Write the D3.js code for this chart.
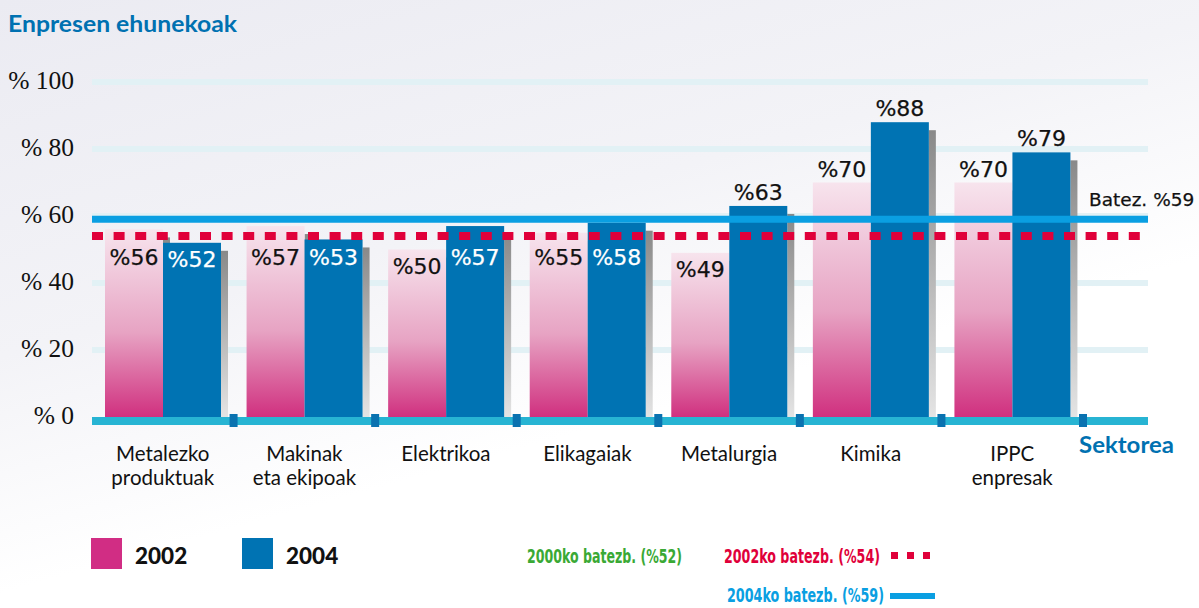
<!DOCTYPE html>
<html>
<head>
<meta charset="utf-8">
<script src="https://cdn.jsdelivr.net/npm/d3@7"></script>
<style>
  body { margin: 0; background: #fff; }
  svg { display: block; }
</style>
</head>
<body>
<svg id="chart" width="1199" height="608"></svg>
<script>
// data
var categories = ["Metalezko\nproduktuak", "Makinak\neta ekipoak", "Elektrikoa", "Elikagaiak", "Metalurgia", "Kimika", "IPPC\nenpresak"];
var years = ["2002", "2004"];
var values2002 = [56, 57, 50, 55, 49, 70, 70];
var values2004 = [52, 53, 57, 58, 63, 88, 79];
var yTicks = [0, 20, 40, 60, 80, 100];
var avg2000 = 52;
var avg2002 = 54;
var avg2004 = 59;

var svg = d3.select("#chart");
var defs = svg.append("defs");

// background wash
var bg = defs.append("linearGradient").attr("id", "bg")
    .attr("x1", 0).attr("y1", 0).attr("x2", 0.55).attr("y2", 1);
bg.append("stop").attr("offset", "0%").attr("stop-color", "#ebebf2");
bg.append("stop").attr("offset", "45%").attr("stop-color", "#f3f3f7");
bg.append("stop").attr("offset", "75%").attr("stop-color", "#ffffff");
svg.append("rect").attr("width", 1199).attr("height", 608).attr("fill", "url(#bg)");

var pink = defs.append("linearGradient").attr("id", "pink")
    .attr("x1", 0).attr("y1", 0).attr("x2", 0).attr("y2", 1);
pink.append("stop").attr("offset", "0%").attr("stop-color", "#f7e4ed");
pink.append("stop").attr("offset", "55%").attr("stop-color", "#e7a3c3");
pink.append("stop").attr("offset", "100%").attr("stop-color", "#d0307f");

var shade = defs.append("linearGradient").attr("id", "shade")
    .attr("x1", 0).attr("y1", 0).attr("x2", 0).attr("y2", 1);
shade.append("stop").attr("offset", "0%").attr("stop-color", "#898989");
shade.append("stop").attr("offset", "100%").attr("stop-color", "#e4e4e4");

var y = d3.scaleLinear().domain([0, 100]).range([417, 82]);
var x0 = d3.scaleBand().domain(categories).range([92, 1083]);
var x1 = d3.scaleBand().domain(years).range([13, 129]);

var colors = { "2002": "url(#pink)", "2004": "#0073b3" };
var labelColors = { "2002": "#111", "2004": "#fff" };

// gridlines
svg.append("g").selectAll("rect")
    .data(yTicks.filter(function(d) { return d > 0; }))
  .enter().append("rect")
    .attr("x", 92).attr("width", 1056)
    .attr("y", function(d) { return y(d) - 3; })
    .attr("height", 6)
    .attr("fill", "#e2f1f5");

// y labels
var yAxis = svg.append("g")
    .attr("transform", "translate(76,-2)")
    .call(d3.axisLeft(y).tickValues(yTicks).tickSize(0).tickPadding(2)
      .tickFormat(function(d) { return "% " + d; }));
yAxis.select(".domain").remove();
yAxis.selectAll("text")
    .attr("font-family", "'Liberation Serif', 'DejaVu Serif', serif")
    .attr("font-size", 25.5)
    .attr("fill", "#111");

var rows = categories.map(function(c, i) {
  return { cat: c, values: [
    { year: "2002", value: values2002[i] },
    { year: "2004", value: values2004[i] }
  ] };
});

var groups = svg.append("g").selectAll("g")
    .data(rows)
  .enter().append("g")
    .attr("transform", function(d) { return "translate(" + x0(d.cat) + ",0)"; });

// drop shadows
groups.selectAll(".shadow")
    .data(function(d) { return d.values; })
  .enter().append("rect")
    .attr("class", "shadow")
    .attr("x", function(d) { return x1(d.year) + x1.bandwidth(); })
    .attr("width", 7)
    .attr("y", function(d) { return y(d.value) + 8; })
    .attr("height", function(d) { return y(0) - y(d.value) - 8; })
    .attr("fill", "url(#shade)");

groups.selectAll(".bar")
    .data(function(d) { return d.values; })
  .enter().append("rect")
    .attr("class", "bar")
    .attr("x", function(d) { return x1(d.year); })
    .attr("width", x1.bandwidth())
    .attr("y", function(d) { return y(d.value); })
    .attr("height", function(d) { return y(0) - y(d.value); })
    .attr("fill", function(d) { return colors[d.year]; });

// baseline band and separators
svg.append("rect")
    .attr("x", 92).attr("width", 1056)
    .attr("y", y(0)).attr("height", 8)
    .attr("fill", "#27b4d3");
svg.append("g").selectAll("rect")
    .data(categories)
  .enter().append("rect")
    .attr("x", function(d) { return x0(d) + x0.bandwidth() - 4; })
    .attr("width", 8)
    .attr("y", y(0) - 3).attr("height", 13)
    .attr("fill", "#0a72b0");

// average lines
svg.append("line")
    .attr("x1", 92).attr("x2", 1148)
    .attr("y1", y(avg2002)).attr("y2", y(avg2002))
    .attr("stroke", "#e0003a").attr("stroke-width", 8)
    .attr("stroke-dasharray", "11 10.6");
svg.append("line")
    .attr("x1", 92).attr("x2", 1148)
    .attr("y1", y(avg2004)).attr("y2", y(avg2004))
    .attr("stroke", "#0a9fe2").attr("stroke-width", 7);

svg.append("text")
    .attr("x", 1089).attr("y", y(avg2004) - 13)
    .attr("font-family", "'DejaVu Sans', sans-serif")
    .attr("font-size", 18.5)
    .attr("fill", "#111")
    .attr("stroke", "#111").attr("stroke-width", 0.25)
    .text("Batez. %" + avg2004);

// value labels
groups.selectAll(".val")
    .data(function(d) { return d.values; })
  .enter().append("text")
    .attr("class", "val")
    .attr("x", function(d) { return x1(d.year) + x1.bandwidth() / 2; })
    .attr("y", function(d) {
      return d.value >= 60 ? y(d.value) - 6 : Math.max(y(d.value) + 24, 265);
    })
    .attr("text-anchor", "middle")
    .attr("font-family", "'DejaVu Sans', sans-serif")
    .attr("font-size", 22)
    .attr("fill", function(d) { return d.value >= 60 ? "#111" : labelColors[d.year]; })
    .attr("stroke", function(d) { return d.value >= 60 ? "#111" : labelColors[d.year]; })
    .attr("stroke-width", 0.25)
    .text(function(d) { return "%" + d.value; });

// category labels
groups.append("text")
    .attr("text-anchor", "middle")
    .attr("font-family", "Lato, 'Open Sans', sans-serif")
    .attr("font-size", 20.5)
    .attr("fill", "#111")
    .selectAll("tspan")
    .data(function(d) { return d.cat.split("\n"); })
  .enter().append("tspan")
    .attr("x", x0.bandwidth() / 2)
    .attr("y", function(d, i) { return 461 + i * 24; })
    .text(function(d) { return d; });

// titles
svg.append("text")
    .attr("x", 8).attr("y", 32)
    .attr("font-family", "Lato, sans-serif")
    .attr("font-weight", "bold")
    .attr("font-size", 22)
    .attr("textLength", 229).attr("lengthAdjust", "spacingAndGlyphs")
    .attr("fill", "#0071b1")
    .text("Enpresen ehunekoak");
svg.append("text")
    .attr("x", 1079).attr("y", 453)
    .attr("font-family", "Lato, sans-serif")
    .attr("font-weight", "bold")
    .attr("font-size", 22.5)
    .attr("textLength", 95).attr("lengthAdjust", "spacingAndGlyphs")
    .attr("fill", "#0071b1")
    .text("Sektorea");

// legend: years
var legend = svg.append("g").selectAll("g")
    .data(years)
  .enter().append("g")
    .attr("transform", function(d, i) { return "translate(" + (91 + i * 151) + ",538)"; });
legend.append("rect")
    .attr("width", 31).attr("height", 31)
    .attr("fill", function(d) { return d === "2002" ? "#d12d84" : "#0073b3"; });
legend.append("text")
    .attr("x", 44).attr("y", 26)
    .attr("font-family", "Lato, sans-serif")
    .attr("font-weight", "900")
    .attr("font-size", 22.5)
    .attr("fill", "#111")
    .text(function(d) { return d; });

// legend: averages
var avgItems = [
  { text: "2000ko batezb. (%" + avg2000 + ")", color: "#3aa935", x: 527, y: 563, w: 155, mark: null },
  { text: "2002ko batezb. (%" + avg2002 + ")", color: "#e0003a", x: 724, y: 563, w: 156, mark: "dash" },
  { text: "2004ko batezb. (%" + avg2004 + ")", color: "#0a9fe2", x: 727, y: 602, w: 157, mark: "solid" }
];
var avgLegend = svg.append("g").selectAll("g")
    .data(avgItems)
  .enter().append("g");
avgLegend.append("text")
    .attr("x", function(d) { return d.x; })
    .attr("y", function(d) { return d.y; })
    .attr("font-family", "'DejaVu Sans Condensed', 'Liberation Sans', sans-serif")
    .attr("font-weight", "bold")
    .attr("font-size", 19.5)
    .attr("textLength", function(d) { return d.w; })
    .attr("lengthAdjust", "spacingAndGlyphs")
    .attr("fill", function(d) { return d.color; })
    .text(function(d) { return d.text; });
avgLegend.filter(function(d) { return d.mark === "dash"; })
  .append("line")
    .attr("x1", 891).attr("x2", 931)
    .attr("y1", 555.5).attr("y2", 555.5)
    .attr("stroke", function(d) { return d.color; })
    .attr("stroke-width", 7)
    .attr("stroke-dasharray", "7 9");
avgLegend.filter(function(d) { return d.mark === "solid"; })
  .append("line")
    .attr("x1", 890).attr("x2", 935)
    .attr("y1", 596).attr("y2", 596)
    .attr("stroke", function(d) { return d.color; })
    .attr("stroke-width", 6);
</script>
</body>
</html>
